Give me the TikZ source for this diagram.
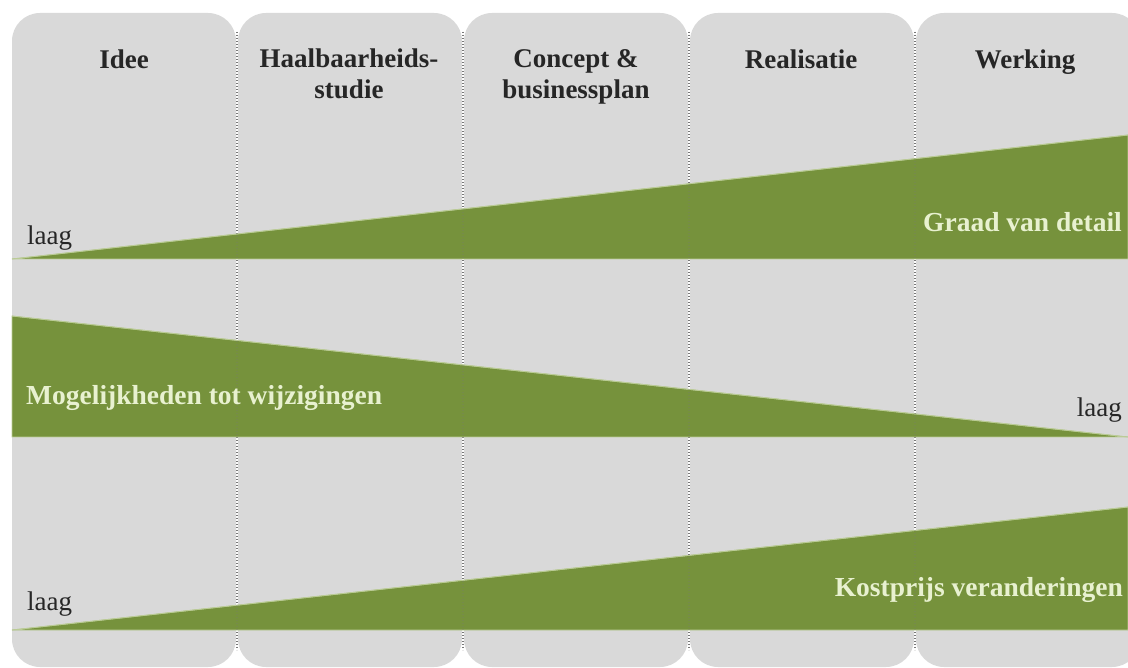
\documentclass[tikz,border=0pt]{standalone}
\usepackage{fontspec}
\setmainfont{Liberation Serif}
\definecolor{boxgray}{RGB}{217,217,217}
\definecolor{olivegreen}{RGB}{118,146,60}
\definecolor{palegreen}{RGB}{232,241,208}
\definecolor{dotgray}{RGB}{120,120,120}
\tikzset{
  colbox/.style={fill=boxgray, rounded corners=28pt},
  sepline/.style={draw=dotgray, line width=1.3pt, dash pattern=on 1.3pt off 1.7pt},
  wedge/.style={fill=olivegreen, draw=palegreen!60!olivegreen, line width=0.8pt, line join=miter},
  hdr/.style={font=\fontsize{27}{31}\selectfont\bfseries, align=center, inner sep=0pt, text=black!85},
  wlabel/.style={font=\fontsize{27.5}{31}\selectfont\bfseries, inner sep=0pt, text=palegreen},
  lowlabel/.style={font=\fontsize{27}{31}\selectfont, inner sep=0pt, text=black!85}
}
\begin{document}
\begin{tikzpicture}[x=1pt,y=-1pt]
\useasboundingbox (0,0) rectangle (1128,668);
\clip (0,0) rectangle (1128,668);
% column boxes
\foreach \i in {0,...,4}{
  \fill[colbox] ({12+226*\i},13) rectangle ({236+226*\i},667);
}
% separators
\foreach \i in {1,...,4}{
  \draw[sepline] ({11+226*\i},32) -- ({11+226*\i},650);
}
% wedges
\fill[wedge] (12,259) -- (1128,135) -- (1128,259) -- cycle;
\fill[wedge] (12,316) -- (1128,437) -- (12,437) -- cycle;
\fill[wedge] (12,630) -- (1128,507) -- (1128,630) -- cycle;
\draw[wedge, fill=none] (12,259) -- (1128,135);
\draw[wedge, fill=none] (12,316) -- (1128,437);
\draw[wedge, fill=none] (12,630) -- (1128,507);
% separators faintly over the wedges
\foreach \i in {1,...,4}{
  \draw[sepline, opacity=0.25] ({11+226*\i},32) -- ({11+226*\i},650);
}
% headers
\node[hdr] (h1) at (124,59) {Idee};
\node[hdr] (h2) at (349,74) {Haalbaarheids-\\studie};
\node[hdr] (h3) at (576,77) {Concept \&\\businessplan};
\node[hdr] (h4) at (801,59) {Realisatie};
\node[hdr] (h5) at (1025,62) {Werking};
% labels
\node[lowlabel, anchor=west] (l1) at (27,238) {laag};
\node[wlabel, anchor=east] (g1) at (1122,222) {Graad van detail};
\node[wlabel, anchor=west] (g2) at (26,398) {Mogelijkheden tot wijzigingen};
\node[lowlabel, anchor=east] (l2) at (1122,410) {laag};
\node[lowlabel, anchor=west] (l3) at (27,604) {laag};
\node[wlabel, anchor=east] (g3) at (1123,590) {Kostprijs veranderingen};
\end{tikzpicture}
\end{document}
